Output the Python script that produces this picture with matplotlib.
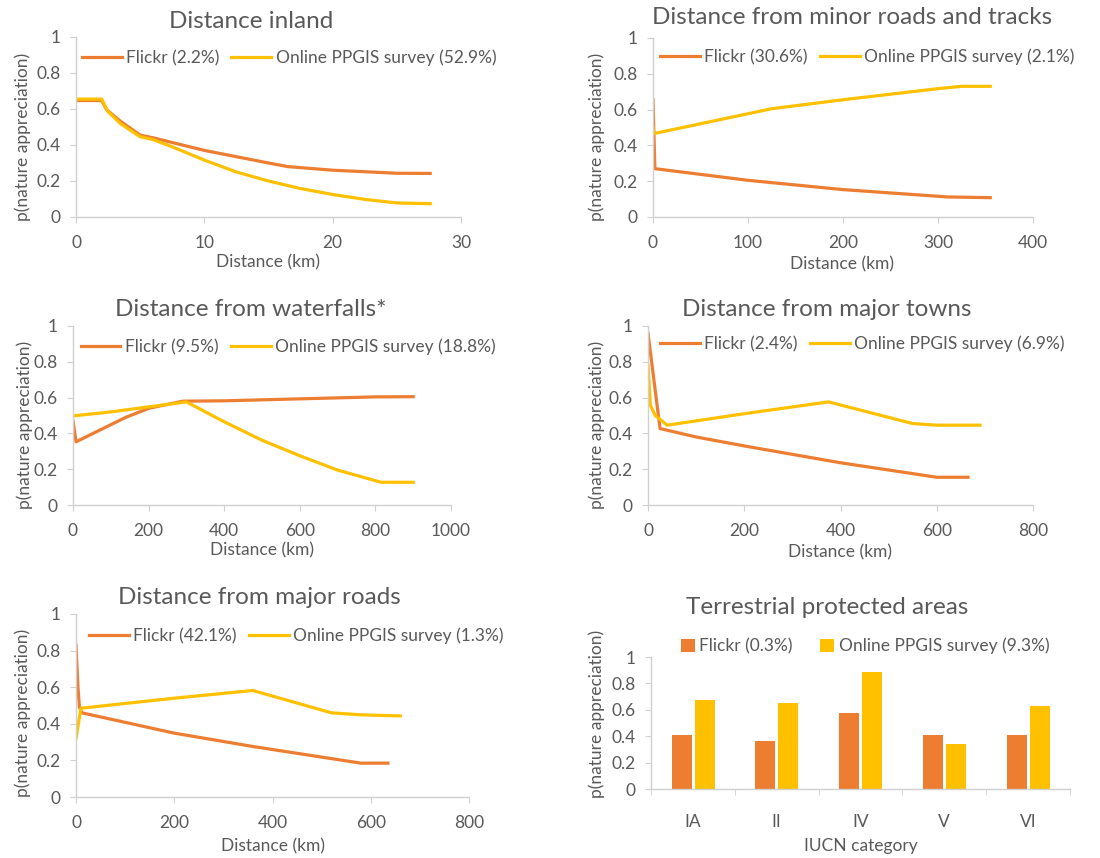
import matplotlib
matplotlib.use("Agg")
import matplotlib.pyplot as plt
import numpy as np

plt.rcParams['font.family'] = ['Lato', 'DejaVu Sans']

ORANGE = '#ED7D31'
YELLOW = '#FFC000'
TXT = '#595959'
AXC = '#D0D0D0'

# ---- data ----
inland_fl_x = [0, 2.0, 2.4, 3.5, 5, 6, 10, 15, 16.5, 20, 25, 27.6]
inland_fl_y = [0.647, 0.647, 0.595, 0.53, 0.455, 0.44, 0.37, 0.30, 0.28, 0.26, 0.243, 0.242]
inland_sv_x = [0, 2.0, 2.5, 3.5, 5, 6, 7.5, 10, 12.5, 15, 17.5, 20, 22.5, 25, 27.6]
inland_sv_y = [0.655, 0.655, 0.585, 0.517, 0.446, 0.43, 0.39, 0.316, 0.25, 0.20, 0.158, 0.125, 0.098, 0.078, 0.074]

minor_fl_x = [0, 2, 100, 200, 310, 355]
minor_fl_y = [0.655, 0.27, 0.205, 0.153, 0.112, 0.108]
minor_sv_x = [0, 1, 100, 125, 200, 300, 325, 355]
minor_sv_y = [0.50, 0.466, 0.577, 0.605, 0.655, 0.717, 0.73, 0.73]

water_fl_x = [0, 8, 140, 200, 290, 400, 600, 800, 900]
water_fl_y = [0.47, 0.353, 0.49, 0.54, 0.58, 0.582, 0.593, 0.604, 0.605]
water_sv_x = [0, 100, 200, 300, 400, 500, 600, 700, 815, 900]
water_sv_y = [0.498, 0.52, 0.548, 0.576, 0.465, 0.362, 0.275, 0.195, 0.127, 0.127]

towns_fl_x = [0, 25, 100, 200, 400, 600, 665]
towns_fl_y = [0.96, 0.427, 0.38, 0.33, 0.236, 0.155, 0.155]
towns_sv_x = [0, 5, 15, 40, 200, 375, 550, 600, 690]
towns_sv_y = [0.78, 0.557, 0.50, 0.446, 0.51, 0.576, 0.455, 0.446, 0.446]

roads_fl_x = [0, 4, 7, 12, 200, 360, 580, 635]
roads_fl_y = [0.83, 0.60, 0.49, 0.46, 0.349, 0.276, 0.185, 0.185]
roads_sv_x = [0, 10, 200, 360, 520, 580, 660]
roads_sv_y = [0.32, 0.485, 0.54, 0.582, 0.46, 0.449, 0.443]

iucn_cats = ['IA', 'II', 'IV', 'V', 'VI']
iucn_fl = [0.41, 0.365, 0.579, 0.41, 0.41]
iucn_sv = [0.678, 0.655, 0.884, 0.338, 0.632]

W, H = 1100, 858
fig = plt.figure(figsize=(11, 8.58), dpi=100)


def px_axes(x0, y0, x1, y1):
    return fig.add_axes([x0 / W, 1 - y1 / H, (x1 - x0) / W, (y1 - y0) / H])


def ftext(x, y, s, **kw):
    fig.text(x / W, 1 - y / H, s, color=TXT, ha='center', va='center', **kw)


def style(ax):
    for s in ['top', 'right']:
        ax.spines[s].set_visible(False)
    for s in ['left', 'bottom']:
        ax.spines[s].set_color(AXC)
        ax.spines[s].set_linewidth(1.0)
    ax.set_ylim(0, 1)
    ax.set_yticks([0, 0.2, 0.4, 0.6, 0.8, 1])
    ax.set_yticklabels(['0', '0.2', '0.4', '0.6', '0.8', '1'])
    ax.tick_params(axis='y', colors=AXC, labelcolor=TXT, labelsize=12.5,
                   length=4, pad=7)
    ax.tick_params(axis='x', colors=AXC, labelcolor=TXT, labelsize=12.5,
                   length=4, pad=9)


def legend(ax, cx, cy, bars=False):
    kw = dict(loc='center', bbox_to_anchor=(cx / W, 1 - cy / H),
              bbox_transform=fig.transFigure, ncol=2, frameon=False,
              fontsize=12.5, labelcolor=TXT, borderpad=0, handletextpad=0.25,
              columnspacing=0.7)
    if bars:
        kw.update(handlelength=0.8, handleheight=0.8, columnspacing=1.6)
    else:
        kw.update(handlelength=2.3)
    ax.legend(**kw)


panels = [
    # title, box, xlim, xticks, fl, sv, labels, title pos, legend pos, ylabel pos, xlabel pos
    ('Distance inland', (76, 37, 461, 217), 30, [0, 10, 20, 30],
     (inland_fl_x, inland_fl_y), (inland_sv_x, inland_sv_y),
     ('Flickr (2.2%)', 'Online PPGIS survey (52.9%)'),
     (251, 22), (289, 58), (23, 137), (268, 262)),
    ('Distance from minor roads and tracks', (653, 38, 1033, 217), 400, [0, 100, 200, 300, 400],
     (minor_fl_x, minor_fl_y), (minor_sv_x, minor_sv_y),
     ('Flickr (30.6%)', 'Online PPGIS survey (2.1%)'),
     (852, 18), (867, 57), (597, 137), (842, 264)),
    ('Distance from waterfalls*', (73, 326, 451, 505), 1000, [0, 200, 400, 600, 800, 1000],
     (water_fl_x, water_fl_y), (water_sv_x, water_sv_y),
     ('Flickr (9.5%)', 'Online PPGIS survey (18.8%)'),
     (251, 310), (288, 347), (25, 425), (262, 550)),
    ('Distance from major towns', (648, 326, 1033, 505), 800, [0, 200, 400, 600, 800],
     (towns_fl_x, towns_fl_y), (towns_sv_x, towns_sv_y),
     ('Flickr (2.4%)', 'Online PPGIS survey (6.9%)'),
     (827, 309), (862, 344), (597, 425), (840, 552)),
    ('Distance from major roads', (76, 614, 469, 797), 800, [0, 200, 400, 600, 800],
     (roads_fl_x, roads_fl_y), (roads_sv_x, roads_sv_y),
     ('Flickr (42.1%)', 'Online PPGIS survey (1.3%)'),
     (259, 598), (296, 636), (23, 713), (273, 846)),
]

for (title, box, xmax, xt, fl, sv, labs, tpos, lpos, ylpos, xlpos) in panels:
    ax = px_axes(*box)
    ax.plot(fl[0], fl[1], color=ORANGE, lw=2.3, label=labs[0], solid_joinstyle='round')
    ax.plot(sv[0], sv[1], color=YELLOW, lw=2.3, label=labs[1], solid_joinstyle='round')
    ax.set_xlim(0, xmax)
    ax.set_xticks(xt)
    style(ax)
    legend(ax, *lpos)
    ftext(*tpos, title, fontsize=17.5)
    ftext(*ylpos, 'p(nature appreciation)', fontsize=12.5, rotation=90)
    ftext(*xlpos, 'Distance (km)', fontsize=12.5)

# bar panel
ax = px_axes(651, 657, 1070, 789)
xpos = np.arange(len(iucn_cats))
ax.bar(xpos - 0.135, iucn_fl, width=0.24, color=ORANGE, label='Flickr (0.3%)')
ax.bar(xpos + 0.14, iucn_sv, width=0.24, color=YELLOW, label='Online PPGIS survey (9.3%)')
ax.set_xlim(-0.5, len(iucn_cats) - 0.5)
style(ax)
ax.set_xticks(xpos)
ax.set_xticklabels(iucn_cats)
ax.set_xticks(np.arange(len(iucn_cats) + 1) - 0.5, minor=True)
ax.tick_params(axis='x', which='major', length=0, pad=18)
ax.tick_params(axis='x', which='minor', colors=AXC, length=4)
legend(ax, 865, 646, bars=True)
ftext(827, 607, 'Terrestrial protected areas', fontsize=17.5)
ftext(597, 714, 'p(nature appreciation)', fontsize=12.5, rotation=90)
ftext(861, 846, 'IUCN category', fontsize=12.5)

fig.savefig('out.png', dpi=100)
